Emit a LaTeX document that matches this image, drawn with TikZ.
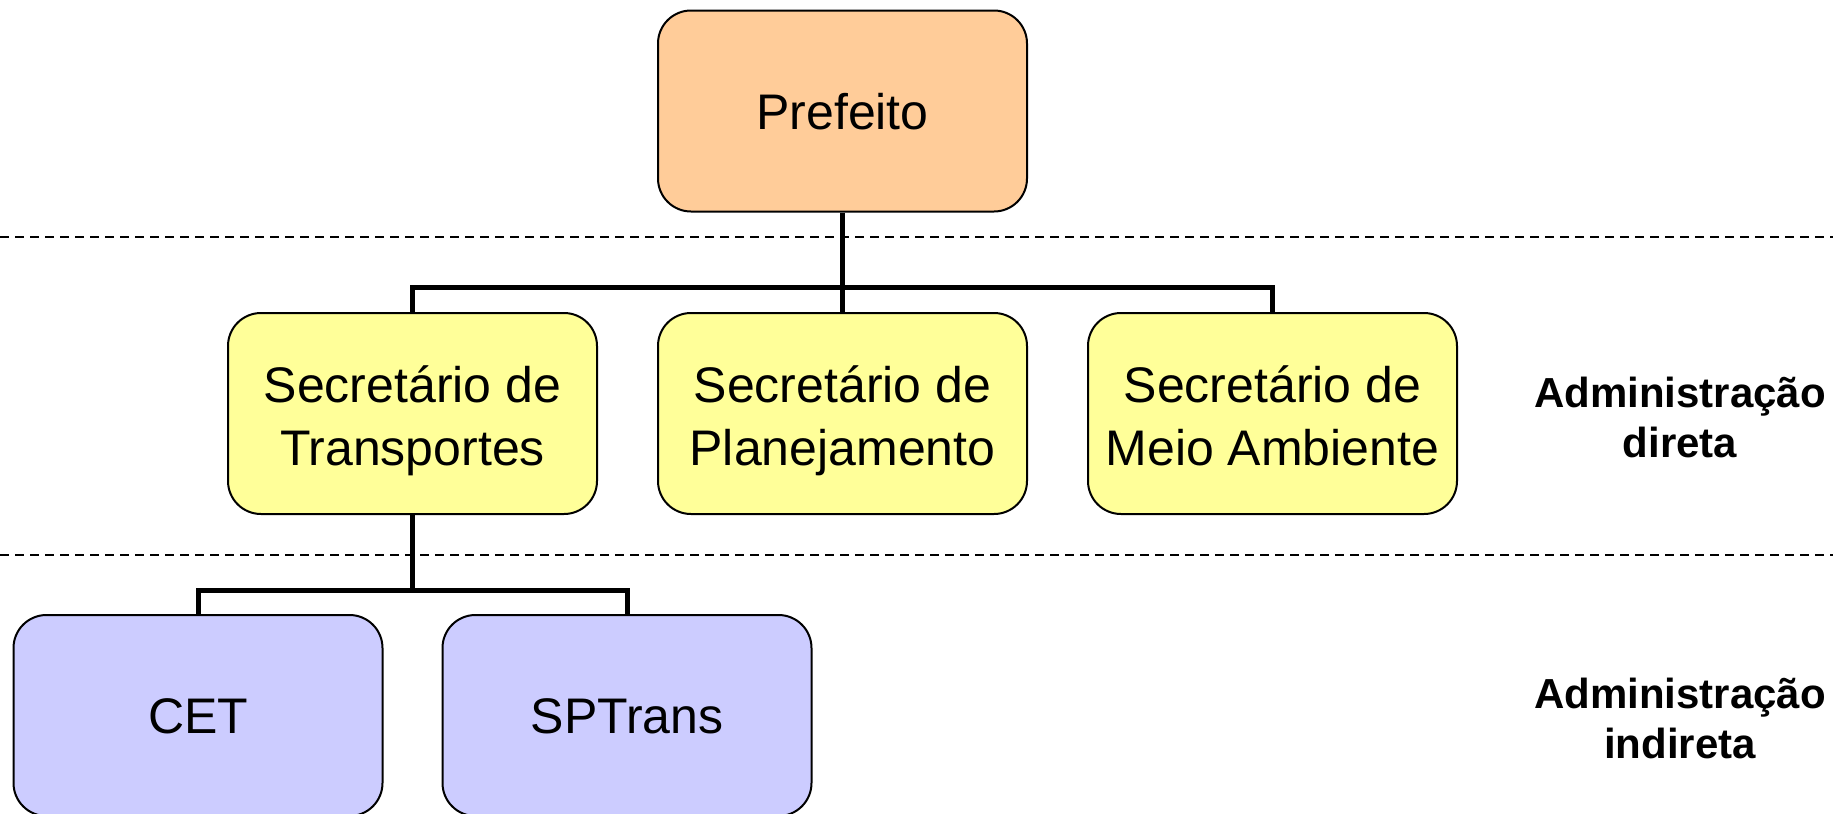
\documentclass[tikz,border=0pt]{standalone}
\usepackage{fontspec}
\setmainfont{Liberation Sans}
\usepackage{tikz}

\tikzset{
  orgbox/.style={draw, line width=1pt, rounded corners=16.5pt, minimum width=184.5pt, minimum height=100.5pt, inner sep=0pt, align=center, font=\fontsize{25}{31.5}\selectfont, text height=24pt, text depth=6pt},
  chief/.style={orgbox, fill={rgb, 255:red, 255; green, 204; blue, 153}},
  secr/.style={orgbox, fill={rgb, 255:red, 255; green, 255; blue, 153}, text height=58pt},
  agency/.style={orgbox, fill={rgb, 255:red, 204; green, 204; blue, 255}},
  conn/.style={line width=2.5pt},
  level/.style={line width=0.75pt, dash pattern=on 4.5pt off 3pt},
  tier/.style={inner sep=0pt, align=center, font=\fontsize{21}{25}\selectfont\bfseries}
}

\begin{document}
\begin{tikzpicture}[x=0.5pt,y=0.5pt,yscale=-1,xscale=1]
        \useasboundingbox (0,0) rectangle (1833,814);
        
        %Dashed Lines 
        \draw [level] (0,237) -- (1833,237) ;
        \draw [level] (0,555) -- (1833,555) ;
        
        % Text Node
        \node (pref) [chief] at (842.5,111) {Prefeito};
        % Text Node
        \node (transp) [secr] at (412.5,413.5) {Secretário de\\Transportes};
        % Text Node
        \node (plan) [secr] at (842.5,413.5) {Secretário de\\Planejamento};
        % Text Node
        \node (meio) [secr] at (1272.5,413.5) {Secretário de~\\Meio Ambiente};
        % Text Node
        \node (cet) [agency] at (198,715.5) {CET};
        % Text Node
        \node (sptr) [agency] at (627,715.5) {SPTrans};
        
        %Straight Lines 
        \draw [conn] (pref.south) -- (plan.north) ;
        \draw [conn] (transp.north) -- ++(0,-25) -| (meio.north) ;
        %Straight Lines 
        \draw [conn] (transp.south) -- ++(0,77) ;
        \draw [conn] (cet.north) -- ++(0,-24) -| (sptr.north) ;
        
        % Text Node
        \node (direta) [tier] at (1680,417) {Administração\\direta};
        % Text Node
        \node (indireta) [tier] at (1680,718) {Administração\\indireta};
        
    \end{tikzpicture}
\end{document}
